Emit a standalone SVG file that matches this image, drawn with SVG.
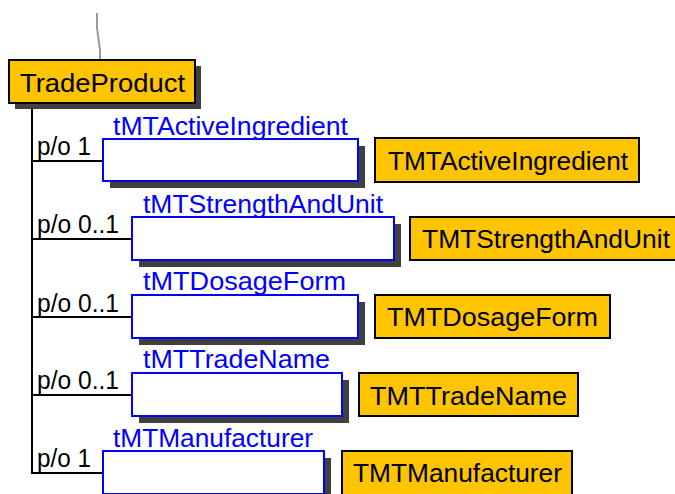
<svg xmlns="http://www.w3.org/2000/svg" width="675" height="494" viewBox="0 0 675 494">
  <style>
    .conn { stroke: #000; stroke-width: 2; fill: none; }
    .lead { stroke: #9a9a9a; stroke-width: 2; fill: none; }
    .shadow { fill: #404040; }
    .elem { fill: #ffc400; stroke: #000; stroke-width: 2; }
    .slot { fill: #fff; stroke: #0000ff; stroke-width: 2; }
    .t { font-family: "Liberation Sans", Arial, sans-serif; font-size: 26px; }
    .dark { fill: #000; }
    .role { fill: #0000ff; }
    .card { fill: #000; }
  </style>
  <rect width="675" height="494" fill="#fff"/>

  <!-- connectors -->
  <g id="connectors">
    <polyline class="lead" points="97,13 97,28 100,50 100,60"/>
    <line class="conn" x1="32" y1="103" x2="32" y2="474"/>
    <line class="conn" x1="32" y1="161" x2="103" y2="161"/>
    <line class="conn" x1="32" y1="239" x2="132" y2="239"/>
    <line class="conn" x1="32" y1="317" x2="132" y2="317"/>
    <line class="conn" x1="32" y1="395" x2="132" y2="395"/>
    <line class="conn" x1="32" y1="473" x2="103" y2="473"/>
    <text class="t card" x="37" y="155" textLength="54" lengthAdjust="spacingAndGlyphs">p/o 1</text>
    <text class="t card" x="37" y="233" textLength="82" lengthAdjust="spacingAndGlyphs">p/o 0..1</text>
    <text class="t card" x="37" y="312" textLength="82" lengthAdjust="spacingAndGlyphs">p/o 0..1</text>
    <text class="t card" x="37" y="389" textLength="82" lengthAdjust="spacingAndGlyphs">p/o 0..1</text>
    <text class="t card" x="37" y="467" textLength="54" lengthAdjust="spacingAndGlyphs">p/o 1</text>
  </g>

  <!-- root element -->
  <g id="TradeProduct">
    <rect class="shadow" x="15" y="66" width="186" height="43"/>
    <rect class="elem" x="9" y="60" width="186" height="43"/>
    <text class="t dark" x="20" y="92" textLength="165" lengthAdjust="spacingAndGlyphs">TradeProduct</text>
  </g>

  <!-- child slots -->
  <g id="slot-activeIngredient">
    <rect class="shadow" x="110" y="146" width="255" height="42"/>
    <rect class="slot" x="103" y="139" width="255" height="42"/>
    <text class="t role" x="113" y="135" textLength="235" lengthAdjust="spacingAndGlyphs">tMTActiveIngredient</text>
  </g>
  <g id="slot-strengthAndUnit">
    <rect class="shadow" x="139" y="224" width="262" height="43"/>
    <rect class="slot" x="132" y="217" width="262" height="43"/>
    <text class="t role" x="143" y="213" textLength="240" lengthAdjust="spacingAndGlyphs">tMTStrengthAndUnit</text>
  </g>
  <g id="slot-dosageForm">
    <rect class="shadow" x="139" y="302" width="226" height="43"/>
    <rect class="slot" x="132" y="295" width="226" height="43"/>
    <text class="t role" x="143" y="290" textLength="203" lengthAdjust="spacingAndGlyphs">tMTDosageForm</text>
  </g>
  <g id="slot-tradeName">
    <rect class="shadow" x="139" y="380" width="210" height="43"/>
    <rect class="slot" x="132" y="373" width="210" height="43"/>
    <text class="t role" x="143" y="368" textLength="187" lengthAdjust="spacingAndGlyphs">tMTTradeName</text>
  </g>
  <g id="slot-manufacturer">
    <rect class="shadow" x="110" y="458" width="221" height="43"/>
    <rect class="slot" x="103" y="451" width="221" height="43"/>
    <text class="t role" x="113" y="447" textLength="200" lengthAdjust="spacingAndGlyphs">tMTManufacturer</text>
  </g>

  <!-- referenced types -->
  <g id="TMTActiveIngredient">
    <rect class="elem" x="375" y="138" width="264" height="44"/>
    <text class="t dark" x="388" y="170" textLength="240" lengthAdjust="spacingAndGlyphs">TMTActiveIngredient</text>
  </g>
  <g id="TMTStrengthAndUnit">
    <rect class="elem" x="410" y="217" width="270" height="43"/>
    <text class="t dark" x="422" y="248" textLength="248" lengthAdjust="spacingAndGlyphs">TMTStrengthAndUnit</text>
  </g>
  <g id="TMTDosageForm">
    <rect class="elem" x="375" y="295" width="235" height="43"/>
    <text class="t dark" x="387" y="326" textLength="211" lengthAdjust="spacingAndGlyphs">TMTDosageForm</text>
  </g>
  <g id="TMTTradeName">
    <rect class="elem" x="359" y="373" width="219" height="43"/>
    <text class="t dark" x="370" y="405" textLength="197" lengthAdjust="spacingAndGlyphs">TMTTradeName</text>
  </g>
  <g id="TMTManufacturer">
    <rect class="elem" x="342" y="451" width="230" height="46"/>
    <text class="t dark" x="353" y="482" textLength="209" lengthAdjust="spacingAndGlyphs">TMTManufacturer</text>
  </g>
</svg>
